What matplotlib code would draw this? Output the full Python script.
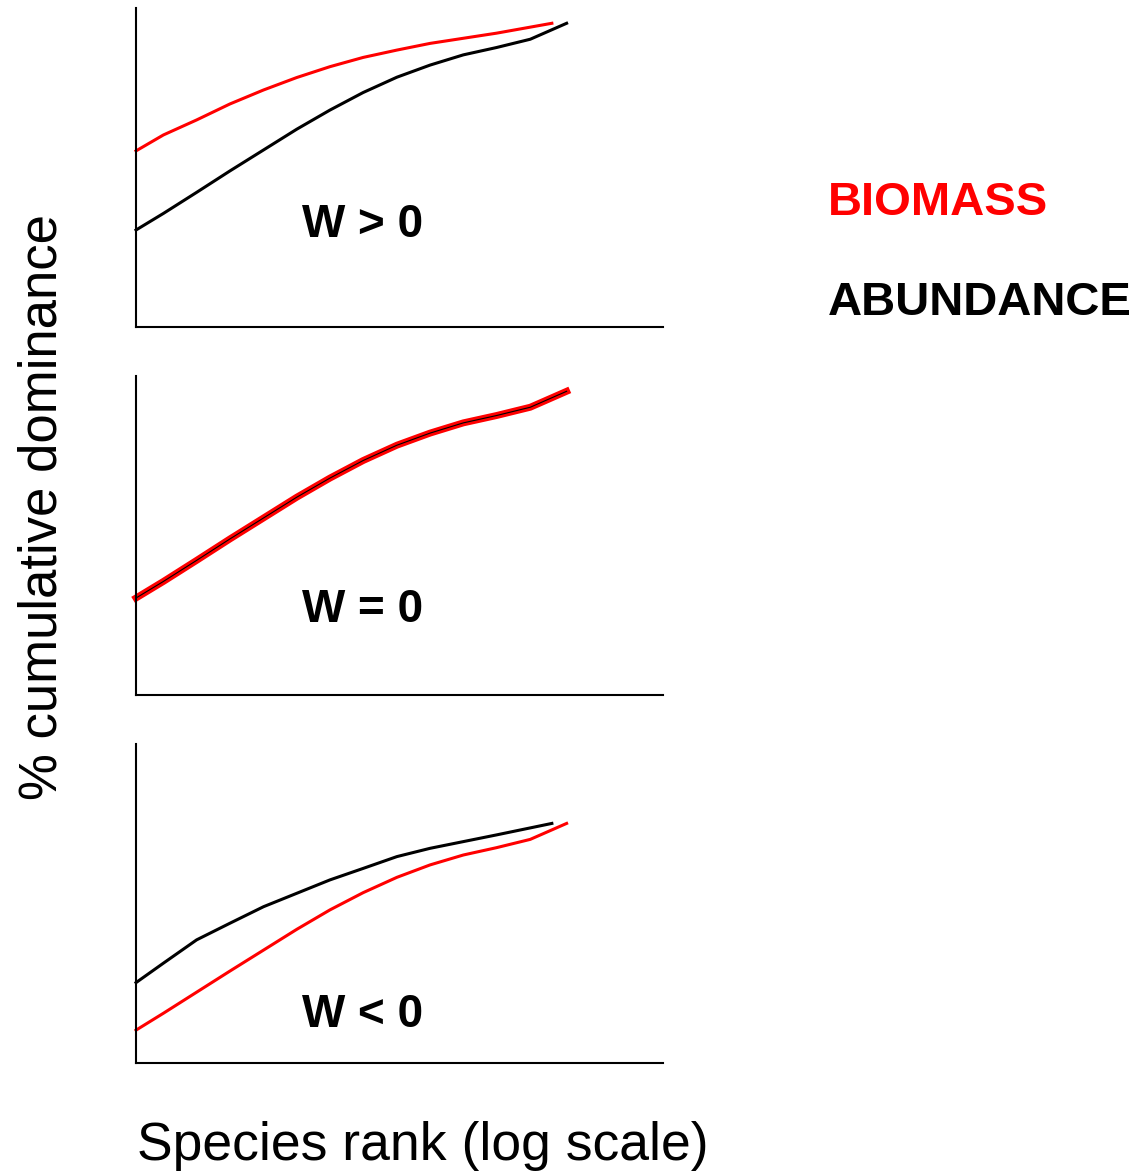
import matplotlib.pyplot as plt

plt.rcParams['font.family'] = ['Liberation Sans', 'DejaVu Sans']

# ранги (условные единицы по оси x) и кумулятивная доминантность, %
rank_a = [0, 5.2, 11.5, 17.8, 24.2, 30.5, 36.8, 43.1, 49.5, 55.8, 62.1,
          68.4, 74.8, 81.7]
rank_b = [0, 5.2, 11.5, 17.8, 24.2, 30.5, 36.8, 43.1, 49.5, 55.8, 62.1,
          68.4, 78.9]

pos_biomass = [55.2, 60.2, 64.9, 69.9, 74.3, 78.2, 81.6, 84.5, 86.8, 88.9,
               90.5, 92.1, 95.2]
pos_abundance = [30.4, 35.6, 42.2, 48.9, 55.5, 62.0, 68.0, 73.5, 78.3, 82.1,
                 85.3, 87.6, 90.2, 95.2]

zero_biomass = [30.4, 35.6, 42.2, 48.9, 55.5, 62.0, 68.0, 73.5, 78.3, 82.1,
                85.3, 87.6, 90.2, 95.2]
zero_abundance = [30.4, 35.6, 42.2, 48.9, 55.5, 62.0, 68.0, 73.5, 78.3, 82.1,
                  85.3, 87.6, 90.2, 95.2]

neg_biomass = [10.3, 15.6, 22.2, 28.8, 35.4, 41.9, 48.0, 53.4, 58.2, 62.1,
               65.2, 67.5, 70.1, 75.1]
neg_abundance = [25.2, 31.3, 38.6, 43.8, 49.0, 53.2, 57.4, 61.0, 64.7, 67.3,
                 69.4, 71.5, 75.1]

panel_labels = ['W > 0', 'W = 0', 'W < 0']
label_y = [28.2, 22.9, 11.3]

fig = plt.figure(figsize=(11.45, 11.72), dpi=100)

bottoms = [0.7210, 0.4070, 0.0930]
axes = []
for b in bottoms:
    ax = fig.add_axes([0.1188, b, 0.4603, 0.2722])
    ax.set_xlim(0, 100)
    ax.set_ylim(0, 100)
    ax.spines['top'].set_visible(False)
    ax.spines['right'].set_visible(False)
    ax.spines['left'].set_linewidth(1.5)
    ax.spines['bottom'].set_linewidth(1.5)
    ax.set_xticks([])
    ax.set_yticks([])
    axes.append(ax)

# W > 0
axes[0].plot(rank_a, pos_abundance, color='black', lw=2.2, clip_on=False)
axes[0].plot(rank_b, pos_biomass, color='red', lw=2.2, clip_on=False)

# W = 0  (кривые совпадают)
axes[1].plot(rank_a, zero_biomass, color='red', lw=5, clip_on=False)
axes[1].plot(rank_a, zero_abundance, color='black', lw=0.8, clip_on=False)

# W < 0
axes[2].plot(rank_b, neg_abundance, color='black', lw=2.2, clip_on=False)
axes[2].plot(rank_a, neg_biomass, color='red', lw=2.2, clip_on=False)

for ax, lab, yy in zip(axes, panel_labels, label_y):
    ax.text(42.9, yy, lab, fontsize=33, fontweight='bold',
            ha='center', va='baseline')

fig.text(0.7231, 1 - 215 / 1172, 'BIOMASS', color='red', fontsize=34,
         fontweight='bold', ha='left', va='baseline')
fig.text(0.7231, 1 - 315 / 1172, 'ABUNDANCE', color='black', fontsize=34,
         fontweight='bold', ha='left', va='baseline')

fig.text(0.037, 0.5674, '% cumulative dominance', fontsize=38,
         rotation=90, ha='center', va='center')
fig.text(0.3694, 1 - 1160 / 1172, 'Species rank (log scale)', fontsize=38.5,
         ha='center', va='baseline')

fig.savefig('out.png', dpi=100)
